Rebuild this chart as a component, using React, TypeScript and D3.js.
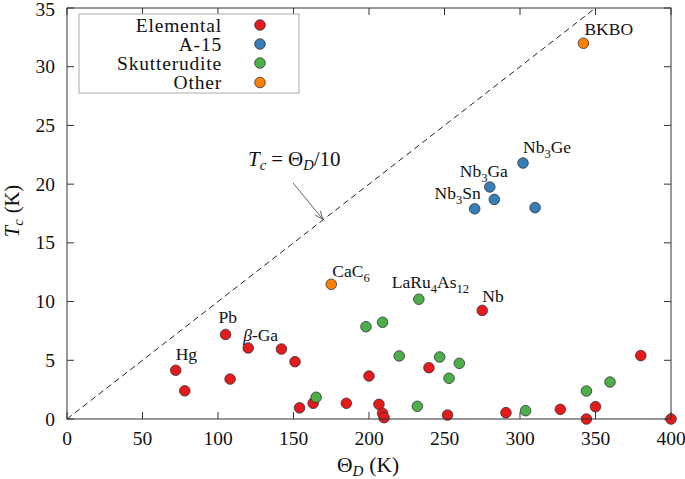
import React from "react";
import * as d3 from "d3";

// ---- data (Θ_D in K, Tc in K) ----
const elemental: [number, number][] = [
  [72, 4.15], [78, 2.4], [105, 7.2], [108, 3.4], [120, 6.05], [142, 5.96],
  [151, 4.88], [154, 0.95], [163, 1.34], [185, 1.34], [200, 3.66], [206.6, 1.25],
  [209, 0.49], [210, 0.11], [239.7, 4.37], [252, 0.34], [275, 9.25], [290.7, 0.54],
  [326.7, 0.82], [344, 0.0], [350, 1.05], [380, 5.4], [400, 0.0],
];
const a15: [number, number][] = [
  [270, 17.9], [280, 19.76], [283, 18.7], [302, 21.8], [310, 18.0],
];
const skutterudite: [number, number][] = [
  [165, 1.85], [198, 7.86], [209, 8.24], [220, 5.37], [232, 1.08], [233, 10.2],
  [246.8, 5.28], [253, 3.47], [259.8, 4.74], [303.7, 0.71], [344, 2.38], [359.6, 3.15],
];
const other: [number, number][] = [[175, 11.47], [342, 32.0]];

const seriesNames = ["Elemental", "A-15", "Skutterudite", "Other"];
const seriesColors = ["#e41a1c", "#377eb8", "#4daf4a", "#ff7f00"];
const seriesData = [elemental, a15, skutterudite, other];

const xTicks = [0, 50, 100, 150, 200, 250, 300, 350, 400];
const yTicks = [0, 5, 10, 15, 20, 25, 30, 35];

type Part = { t: string; sub?: boolean; it?: boolean };
const pointLabels: { at: [number, number]; parts: Part[] }[] = [
  { at: [72, 4.15], parts: [{ t: "Hg" }] },
  { at: [105, 7.2], parts: [{ t: "Pb" }] },
  { at: [120, 6.05], parts: [{ t: "β", it: true }, { t: "-Ga" }] },
  { at: [175, 11.47], parts: [{ t: "CaC" }, { t: "6", sub: true }] },
  { at: [233, 10.2], parts: [{ t: "LaRu" }, { t: "4", sub: true }, { t: "As" }, { t: "12", sub: true }] },
  { at: [275, 9.25], parts: [{ t: "Nb" }] },
  { at: [302, 21.8], parts: [{ t: "Nb" }, { t: "3", sub: true }, { t: "Ge" }] },
  { at: [280, 19.76], parts: [{ t: "Nb" }, { t: "3", sub: true }, { t: "Ga" }] },
  { at: [270, 17.9], parts: [{ t: "Nb" }, { t: "3", sub: true }, { t: "Sn" }] },
  { at: [342, 32.0], parts: [{ t: "BKBO" }] },
];
const labelLayout: { dx: number; dy: number; anchor: string }[] = [
  { dx: 0, dy: -10, anchor: "start" },
  { dx: -7, dy: -11, anchor: "start" },
  { dx: -5, dy: -7, anchor: "start" },
  { dx: 1, dy: -7, anchor: "start" },
  { dx: -27, dy: -11, anchor: "start" },
  { dx: 0, dy: -8, anchor: "start" },
  { dx: 0, dy: -10, anchor: "start" },
  { dx: -30, dy: -10, anchor: "start" },
  { dx: 6, dy: -10, anchor: "end" },
  { dx: 1, dy: -8, anchor: "start" },
];

const annotationFrom: [number, number] = [149.7, 20.1];
const annotationTo: [number, number] = [169.5, 17.0];

const W = 685, H = 479;
const FONT = "Liberation Serif";

function renderParts(parts: Part[], size: number) {
  const out: React.ReactNode[] = [];
  let shifted = false;
  parts.forEach((p, i) => {
    let dy: number | undefined = undefined;
    if (p.sub && !shifted) { dy = size * 0.28; shifted = true; }
    else if (!p.sub && shifted) { dy = -size * 0.28; shifted = false; }
    out.push(
      <tspan key={i} dy={dy} fontSize={p.sub ? size * 0.72 : size} fontStyle={p.it ? "italic" : "normal"}>
        {p.t}
      </tspan>
    );
  });
  return out;
}

export default function App() {
  const x = d3.scaleLinear().domain([0, 400]).range([67, 671]);
  const y = d3.scaleLinear().domain([0, 35]).range([419, 8]);
  const [x0, x1] = x.range();
  const [y0, y1] = y.range();
  const tickLen = 7;
  const axisColor = "#333";

  const linePts: [number, number][] = [[0, 0], [350, 35]];
  const linePath = d3.line<[number, number]>().x((d) => x(d[0])).y((d) => y(d[1]))(linePts)!;

  const ax1 = x(annotationFrom[0]), ay1 = y(annotationFrom[1]);
  const ax2 = x(annotationTo[0]), ay2 = y(annotationTo[1]);
  const ang = Math.atan2(ay2 - ay1, ax2 - ax1);
  const ah = 9, aw = 0.38;
  const head1 = [ax2 - ah * Math.cos(ang - aw), ay2 - ah * Math.sin(ang - aw)];
  const head2 = [ax2 - ah * Math.cos(ang + aw), ay2 - ah * Math.sin(ang + aw)];

  const legendRowY = [25, 44, 63, 82.5];

  return (
    <svg width={W} height={H} style={{ position: "absolute", left: 0, top: 0, background: "#fff" }}>
      <rect x={0} y={0} width={W} height={H} fill="#fff" />
      <path d={linePath} stroke="#222" strokeWidth={1} strokeDasharray="6,4" fill="none" />

      <text x={248} y={166} fontSize={21} fill="#111" fontFamily={FONT}>
        <tspan fontStyle="italic">T</tspan>
        <tspan fontStyle="italic" fontSize={14.5} dy={4}>c</tspan>
        <tspan dy={-4} dx={5}>=</tspan>
        <tspan dx={5}>Θ</tspan>
        <tspan fontStyle="italic" fontSize={14.5} dy={4}>D</tspan>
        <tspan dy={-4}>/10</tspan>
      </text>
      <line x1={ax1} y1={ay1} x2={ax2} y2={ay2} stroke="#555" strokeWidth={0.9} />
      <polyline points={`${head1[0]},${head1[1]} ${ax2},${ay2} ${head2[0]},${head2[1]}`} stroke="#555" strokeWidth={0.9} fill="none" />

      {xTicks.map((t) => (
        <g key={"xt" + t}>
          <line x1={x(t)} x2={x(t)} y1={y0} y2={y0 - tickLen} stroke={axisColor} strokeWidth={1} />
          <line x1={x(t)} x2={x(t)} y1={y1} y2={y1 + tickLen} stroke={axisColor} strokeWidth={1} />
          <text x={x(t)} y={445} textAnchor="middle" fontSize={19.5} fill="#111" fontFamily={FONT}>{t}</text>
        </g>
      ))}
      {yTicks.map((t) => (
        <g key={"yt" + t}>
          <line x1={x0} x2={x0 + tickLen} y1={y(t)} y2={y(t)} stroke={axisColor} strokeWidth={1} />
          <line x1={x1} x2={x1 - tickLen} y1={y(t)} y2={y(t)} stroke={axisColor} strokeWidth={1} />
          <text x={55} y={Math.max(y(t) + 6.5, 15.5)} textAnchor="end" fontSize={19.5} fill="#111" fontFamily={FONT}>{t}</text>
        </g>
      ))}

      {seriesData.map((data, si) => (
        <g key={"s" + si}>
          {data.map((d, i) => (
            <circle key={i} cx={x(d[0])} cy={y(d[1])} r={5.3} fill={seriesColors[si]} stroke="#333" strokeWidth={0.8} />
          ))}
        </g>
      ))}

      <rect x={x0} y={y1} width={x1 - x0} height={y0 - y1} fill="none" stroke={axisColor} strokeWidth={1} />

      {pointLabels.map((l, i) => (
        <text key={"pl" + i} x={x(l.at[0]) + labelLayout[i].dx} y={y(l.at[1]) + labelLayout[i].dy}
          textAnchor={labelLayout[i].anchor} fontSize={17.5} fill="#111" fontFamily={FONT}>
          {renderParts(l.parts, 17.5)}
        </text>
      ))}

      <rect x={79} y={14} width={220} height={79} fill="#fff" stroke="#aaa" strokeWidth={1} />
      {seriesNames.map((n, i) => (
        <g key={"lg" + i}>
          <text x={222} y={legendRowY[i] + 6.5} textAnchor="end" fontSize={19.5} letterSpacing={0.8} fill="#111" fontFamily={FONT}>{n}</text>
          <circle cx={260} cy={legendRowY[i]} r={5.3} fill={seriesColors[i]} stroke="#333" strokeWidth={0.8} />
        </g>
      ))}

      <text x={368} y={472} textAnchor="middle" fontSize={21.5} fill="#111" fontFamily={FONT}>
        <tspan>Θ</tspan>
        <tspan fontStyle="italic" fontSize={15} dy={4}>D</tspan>
        <tspan dy={-4} dx={6}>(K)</tspan>
      </text>
      <text transform={`translate(19,211) rotate(-90)`} textAnchor="middle" fontSize={20.5} fill="#111" fontFamily={FONT}>
        <tspan fontStyle="italic">T</tspan>
        <tspan fontStyle="italic" fontSize={14.5} dy={4}>c</tspan>
        <tspan dy={-4} dx={6}>(K)</tspan>
      </text>
    </svg>
  );
}
